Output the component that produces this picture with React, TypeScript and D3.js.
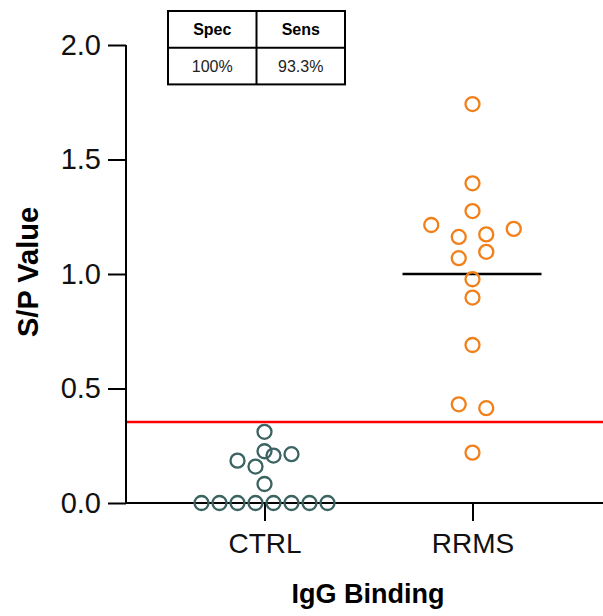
import { useEffect, useRef } from 'react';
import * as d3 from 'd3';

// Categories and values
const groups = ['CTRL', 'RRMS'];
const ctrlValues = [0, 0, 0, 0, 0, 0, 0, 0, 0.083, 0.185, 0.159, 0.207, 0.213, 0.226, 0.311];
const rrmsValues = [1.742, 1.396, 1.275, 1.214, 1.162, 1.173, 1.197, 1.069, 1.097, 0.977, 0.897, 0.69, 0.431, 0.414, 0.22];
const rrmsCenterLine = 1.0;
const cutoff = 0.354;
const yTicks = [0, 0.5, 1.0, 1.5, 2.0];
const tableHeaders = ['Spec', 'Sens'];
const tableValues = ['100%', '93.3%'];

const FONT = '"Liberation Sans", Arial, Helvetica, sans-serif';

function App() {
  const svgRef = useRef<SVGSVGElement>(null);

  useEffect(() => {
    const width = 603;
    const height = 616;
    const margin = { top: 45, right: 0, bottom: 113, left: 126 };
    const innerWidth = width - margin.left - margin.right;
    const innerHeight = height - margin.top - margin.bottom;

    const svg = d3.select(svgRef.current);
    svg.selectAll('*').remove();

    const g = svg.append('g').attr('transform', `translate(${margin.left},${margin.top})`);

    const y = d3.scaleLinear().domain([0, 2]).range([innerHeight, 0]);
    const x = d3.scalePoint<string>().domain(groups).range([138.5, 346.5]);

    const colors: Record<string, string> = { CTRL: '#3a6361', RRMS: '#f2801a' };
    const steps: Record<string, number> = { CTRL: 18, RRMS: 27.5 };
    const series: Record<string, number[]> = { CTRL: ctrlValues, RRMS: rrmsValues };

    // scatter layout: points within a few pixels share a row, rows are centred
    function swarm(values: number[], step: number) {
      const idx = values.map((_, i) => i).sort((a, b) => values[a] - values[b] || a - b);
      const rows: number[][] = [];
      let start = -Infinity;
      idx.forEach(i => {
        const py = y(values[i]);
        if (rows.length && start - py < 14) rows[rows.length - 1].push(i);
        else { rows.push([i]); start = py; }
      });
      const off = new Array(values.length).fill(0);
      rows.forEach(r => {
        r.sort((a, b) => a - b);
        r.forEach((i, k) => { off[i] = (k - (r.length - 1) / 2) * step; });
      });
      return off;
    }

    // cutoff line
    g.append('line')
      .attr('x1', 0).attr('x2', innerWidth)
      .attr('y1', y(cutoff)).attr('y2', y(cutoff))
      .attr('stroke', '#ff0000').attr('stroke-width', 2.5);

    // median line for RRMS
    g.append('line')
      .attr('x1', x('RRMS')! - 70).attr('x2', x('RRMS')! + 69)
      .attr('y1', y(rrmsCenterLine)).attr('y2', y(rrmsCenterLine))
      .attr('stroke', '#000').attr('stroke-width', 2.5);

    // axes
    const yAxis = g.append('g')
      .call(d3.axisLeft(y).tickValues(yTicks).tickSize(18).tickPadding(7).tickFormat(d3.format('.1f')));
    yAxis.select('.domain').remove();
    yAxis.selectAll('line').attr('stroke-width', 2);
    yAxis.selectAll('text').style('font-size', '29px').style('font-family', FONT).attr('fill', '#111');

    const xAxis = g.append('g')
      .attr('transform', `translate(0,${innerHeight})`)
      .call(d3.axisBottom(x).tickSize(18).tickPadding(12));
    xAxis.select('.domain').remove();
    xAxis.selectAll('line').attr('stroke-width', 2);
    xAxis.selectAll('text').style('font-size', '28px').style('font-family', FONT).attr('fill', '#111');

    g.append('line')
      .attr('x1', 0).attr('x2', 0).attr('y1', y(2)).attr('y2', innerHeight + 1)
      .attr('stroke', '#000').attr('stroke-width', 2);
    g.append('line')
      .attr('x1', -1).attr('x2', innerWidth).attr('y1', innerHeight).attr('y2', innerHeight)
      .attr('stroke', '#000').attr('stroke-width', 2);

    // points
    groups.forEach(grp => {
      const vals = series[grp];
      const off = swarm(vals, steps[grp]);
      g.append('g').selectAll('circle')
        .data(vals)
        .join('circle')
        .attr('cx', (_, i) => x(grp)! + off[i])
        .attr('cy', d => y(d))
        .attr('r', 7)
        .attr('fill', 'none')
        .attr('stroke', colors[grp])
        .attr('stroke-width', 2.3);
    });

    // axis titles
    svg.append('text')
      .attr('transform', `translate(38,${margin.top + innerHeight / 2 - 2}) rotate(-90)`)
      .attr('text-anchor', 'middle')
      .style('font-family', FONT).style('font-size', '29px').style('font-weight', 'bold')
      .text('S/P Value');

    svg.append('text')
      .attr('x', 368).attr('y', 603)
      .attr('text-anchor', 'middle')
      .style('font-family', FONT).style('font-size', '27px').style('font-weight', 'bold')
      .text('IgG Binding');

    // Spec / Sens table
    const tx = 168, ty = 11, cw = 88.5, rh = 36.7;
    const table = svg.append('g').attr('transform', `translate(${tx},${ty})`);
    table.append('rect')
      .attr('width', cw * 2).attr('height', rh * 2)
      .attr('fill', 'white').attr('stroke', '#000').attr('stroke-width', 2);
    table.append('line').attr('x1', cw).attr('x2', cw).attr('y1', 0).attr('y2', rh * 2)
      .attr('stroke', '#000').attr('stroke-width', 2);
    table.append('line').attr('x1', 0).attr('x2', cw * 2).attr('y1', rh).attr('y2', rh)
      .attr('stroke', '#000').attr('stroke-width', 2);
    tableHeaders.forEach((h, i) => {
      table.append('text')
        .attr('x', cw * i + cw / 2).attr('y', rh / 2 + 6)
        .attr('text-anchor', 'middle')
        .style('font-family', FONT).style('font-size', '16px').style('font-weight', 'bold')
        .text(h);
    });
    tableValues.forEach((v, i) => {
      table.append('text')
        .attr('x', cw * i + cw / 2).attr('y', rh * 1.5 + 6)
        .attr('text-anchor', 'middle')
        .style('font-family', FONT).style('font-size', '16px')
        .attr('fill', '#222')
        .text(v);
    });
  }, []);

  return (
    <svg
      ref={svgRef}
      width={603}
      height={616}
      style={{ position: 'absolute', left: 0, top: 0, background: 'white' }}
    />
  );
}

export default App;
